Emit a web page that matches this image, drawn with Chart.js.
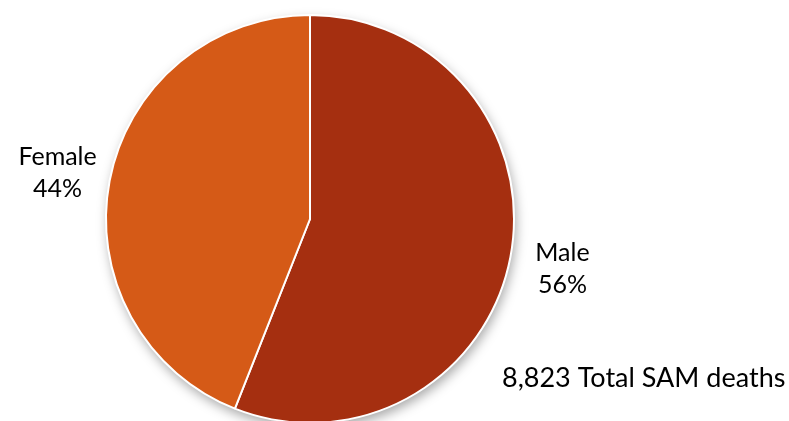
<!DOCTYPE html>
<html>
<head>
<meta charset="utf-8">
<script src="https://cdn.jsdelivr.net/npm/chart.js@4"></script>
<style>
  html, body { margin: 0; padding: 0; background: #fff; overflow: hidden; }
  #wrap { position: relative; width: 789px; height: 438px; }
</style>
</head>
<body>
<div id="wrap"><canvas id="samChart"></canvas></div>
<script>
const labels = ['Male', 'Female'];
const shares = [56, 44];
const colors = ['#A52F10', '#D55A17'];
const totalDeaths = 8823;

const fontFamily = 'Lato, "Open Sans", sans-serif';

// soft drop shadow behind the whole pie (drawn as one disc so slices don't shade each other)
const shadowPlugin = {
    id: 'pieShadow',
    beforeDatasetsDraw(chart) {
        const arc = chart.getDatasetMeta(0).data[0];
        if (!arc) return;
        const ctx = chart.ctx;
        ctx.save();
        ctx.shadowColor = 'rgba(0,0,0,0.35)';
        ctx.shadowBlur = 12;
        ctx.shadowOffsetX = 2;
        ctx.shadowOffsetY = 5;
        ctx.fillStyle = '#fff';
        ctx.beginPath();
        ctx.arc(arc.x, arc.y, arc.outerRadius, 0, Math.PI * 2);
        ctx.fill();
        ctx.restore();
    }
};

// category + percent labels outside each slice, plus total note
const labelPlugin = {
    id: 'outsideLabels',
    afterDraw(chart) {
        const ctx = chart.ctx;
        const meta = chart.getDatasetMeta(0);
        ctx.save();
        ctx.fillStyle = '#000';
        ctx.font = '25px ' + fontFamily;
        ctx.textAlign = 'center';
        ctx.textBaseline = 'middle';
        meta.data.forEach((arc, i) => {
            const mid = (arc.startAngle + arc.endAngle) / 2;
            const r = arc.outerRadius + 53;
            const x = arc.x + Math.cos(mid) * r;
            const y = arc.y + Math.sin(mid) * r;
            ctx.fillText(labels[i], x, y - 14);
            ctx.fillText(shares[i] + '%', x, y + 18);
        });
        ctx.textAlign = 'left';
        ctx.font = '27px ' + fontFamily;
        ctx.fillText(totalDeaths.toLocaleString('en-US') + ' Total SAM deaths', 502, 378);
        ctx.restore();
    }
};

new Chart(document.getElementById('samChart').getContext('2d'), {
    type: 'pie',
    data: {
        labels: labels,
        datasets: [{
            data: shares,
            backgroundColor: colors,
            borderColor: '#fff',
            borderWidth: 2
        }]
    },
    options: {
        responsive: true,
        maintainAspectRatio: false,
        animation: false,
        layout: { padding: { left: 105, right: 274, top: 14, bottom: 14 } },
        plugins: {
            legend: { display: false },
            tooltip: { enabled: false }
        }
    },
    plugins: [shadowPlugin, labelPlugin]
});
</script>
</body>
</html>
